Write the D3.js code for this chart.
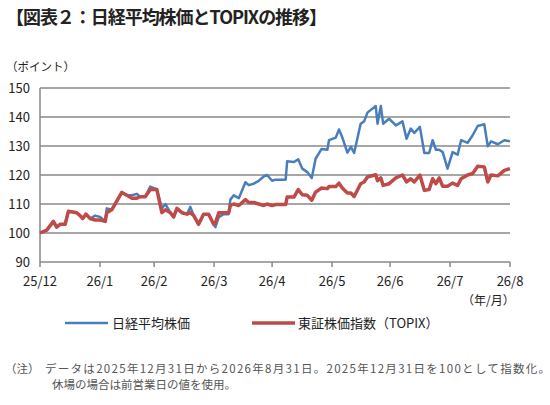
<!DOCTYPE html>
<html><head><meta charset="utf-8">
<script src="https://cdn.jsdelivr.net/npm/d3@7"></script>
<style>body{margin:0;background:#fff;font-family:"Noto Sans CJK JP","Noto Sans",sans-serif}</style>
</head><body><svg id="c" width="550" height="405"></svg>
<script>
const days = [0,3.5,6.9,8.6,10.4,13,14.7,19,20.7,22.1,23.8,25.9,28.5,31.1,33.7,34.5,37.1,39.7,42.3,44.9,47.5,50.1,51.8,54.4,57,60.4,63,64.8,67.4,69.1,70.8,73.4,76,77.7,79.5,82,84.6,87.2,89.8,90.7,92.4,95,97.6,98.4,100.2,102.8,106.2,107.9,110.5,113.1,115.7,117.4,120,
121.8,127,127.8,131.3,133.5,135.6,138.2,140.5,142.5,145.6,148.6,149.4,152.9,154.6,156.3,158.9,160.7,162.4,165.8,167.6,169.3,173.6,174.5,176.2,177.4,180.5,184,187.4,189.5,191.7,193.5,196.4,198.7,201.2,203,204.7,206.4,208.2,210.7,213.3,215.9,217.7,221.1,223.7,226.3,229.7,231.5,233.2,236.7,240.1,243];
const nikkei = [100,101,104,102,103,103,107.5,107,106,105,106.5,105,106,105.5,104,108.5,108,111,114,113,113,113.5,112.5,112.5,116,115,108.5,110,107,105.5,108.5,107,106.5,109,106,103,106.5,106.5,103,102,105.5,106.5,106.5,111.5,113,112,117.5,116.5,117,118,119.5,120,118,
118.4,118.4,124.7,124.5,125.4,122.2,121,119,125.6,129,128.7,132,132.9,135.7,133,127.7,129.7,127.6,137.7,138.5,141.5,143.8,137.7,143.8,137.7,139.4,137.1,138.5,132.5,136,134.5,136.6,127.6,127.6,132,128.7,128.7,127.9,122.2,127.9,127,132,131.1,133.7,136.9,137.5,129.9,131.6,130.6,132,131.6];
const topix = [100,101,104,102,103,103,107.5,107,106,105,106.5,105,104.5,104.5,104,107,108,111,114,113,112,112,112.5,112.5,115,115,107,108,107,105.5,108.5,107,106.5,107,106,103,106.5,106.5,103,103.5,107,107,107,109.5,110,109.5,111.5,110.5,110.5,110,109.5,110,109.5,
109.8,109.8,112.4,112.4,115,113.2,113,111.3,114.1,115.5,115.3,116,116,117.2,115.5,113.8,113.8,112.6,117,117.6,119.3,120.1,118,119,116.4,117,119,120,117.6,118.7,117.6,120,114.7,115,118.7,117,119,116.1,116.1,117.2,116.4,118.7,120,120.5,123,122.8,117.6,120,119.7,121.6,122.2];
const yTicks = [90,100,110,120,130,140,150];
const monthEnds = ["2025-12-31","2026-01-31","2026-02-28","2026-03-31","2026-04-30","2026-05-31","2026-06-30","2026-07-31","2026-08-31"];
const monthLabels = ["25/12","26/1","26/2","26/3","26/4","26/5","26/6","26/7","26/8"];

const svg = d3.select("#c");
const parse = d3.timeParse("%Y-%m-%d");
const t0 = parse(monthEnds[0]);
const x = d3.scaleTime().domain([t0, parse(monthEnds[8])]).range([40,510]);
const y = d3.scaleLinear().domain([90,150]).range([262,88]);
const date = d => d3.timeHour.offset(t0, Math.round(d*24));

svg.append("text").attr("x",6).attr("y",24).attr("font-size",18).attr("font-weight","bold").attr("fill","#222").attr("textLength",321).text("【図表２：日経平均株価とTOPIXの推移】");
svg.append("text").attr("x",6).attr("y",71).attr("font-size",11.5).attr("fill","#222").text("（ポイント）");

const g = svg.append("g");
yTicks.slice(1).forEach(v=>{
  g.append("line").attr("x1",40).attr("x2",510).attr("y1",y(v)).attr("y2",y(v)).attr("stroke","#888").attr("stroke-width",1.5);
});
yTicks.forEach(v=>{
  g.append("text").attr("x",30).attr("y",y(v)+5).attr("text-anchor","end").attr("font-size",13).attr("fill","#222").text(v);
});
g.append("line").attr("x1",40).attr("x2",40).attr("y1",88).attr("y2",262).attr("stroke","#888").attr("stroke-width",1.5);
g.append("line").attr("x1",40).attr("x2",510).attr("y1",262).attr("y2",262).attr("stroke","#888").attr("stroke-width",1.5);
monthEnds.forEach((m,i)=>{
  const xx = x(parse(m));
  g.append("line").attr("x1",xx).attr("x2",xx).attr("y1",262).attr("y2",267).attr("stroke","#888").attr("stroke-width",1.5);
  g.append("text").attr("x",xx).attr("y",286).attr("text-anchor","middle").attr("font-size",13).attr("fill","#222").text(monthLabels[i]);
});
svg.append("text").attr("x",462).attr("y",305).attr("font-size",12).attr("fill","#222").text("（年/月）");

const line = vals => d3.line().x((d,i)=>x(date(days[i]))).y(d=>y(d))(vals);
svg.append("path").attr("d",line(nikkei)).attr("fill","none").attr("stroke","#4a7ebb").attr("stroke-width",2.5).attr("stroke-linejoin","round");
svg.append("path").attr("d",line(topix)).attr("fill","none").attr("stroke","#be4b48").attr("stroke-width",3.5).attr("stroke-linejoin","round");

svg.append("line").attr("x1",65).attr("x2",108).attr("y1",323).attr("y2",323).attr("stroke","#4a7ebb").attr("stroke-width",2.5);
svg.append("text").attr("x",112).attr("y",328).attr("font-size",13).attr("fill","#222").text("日経平均株価");
svg.append("line").attr("x1",252).attr("x2",295).attr("y1",323).attr("y2",323).attr("stroke","#be4b48").attr("stroke-width",3.5);
svg.append("text").attr("x",298).attr("y",328).attr("font-size",13).attr("fill","#222").text("東証株価指数（TOPIX）");

svg.append("text").attr("x",5).attr("y",373).attr("font-size",11.5).attr("fill","#555").text("（注）");
svg.append("text").attr("x",45).attr("y",373).attr("font-size",11.5).attr("fill","#555").attr("textLength",505).text("データは2025年12月31日から2026年8月31日。2025年12月31日を100として指数化。");
svg.append("text").attr("x",52).attr("y",389).attr("font-size",11.5).attr("fill","#555").text("休場の場合は前営業日の値を使用。");
</script></body></html>
